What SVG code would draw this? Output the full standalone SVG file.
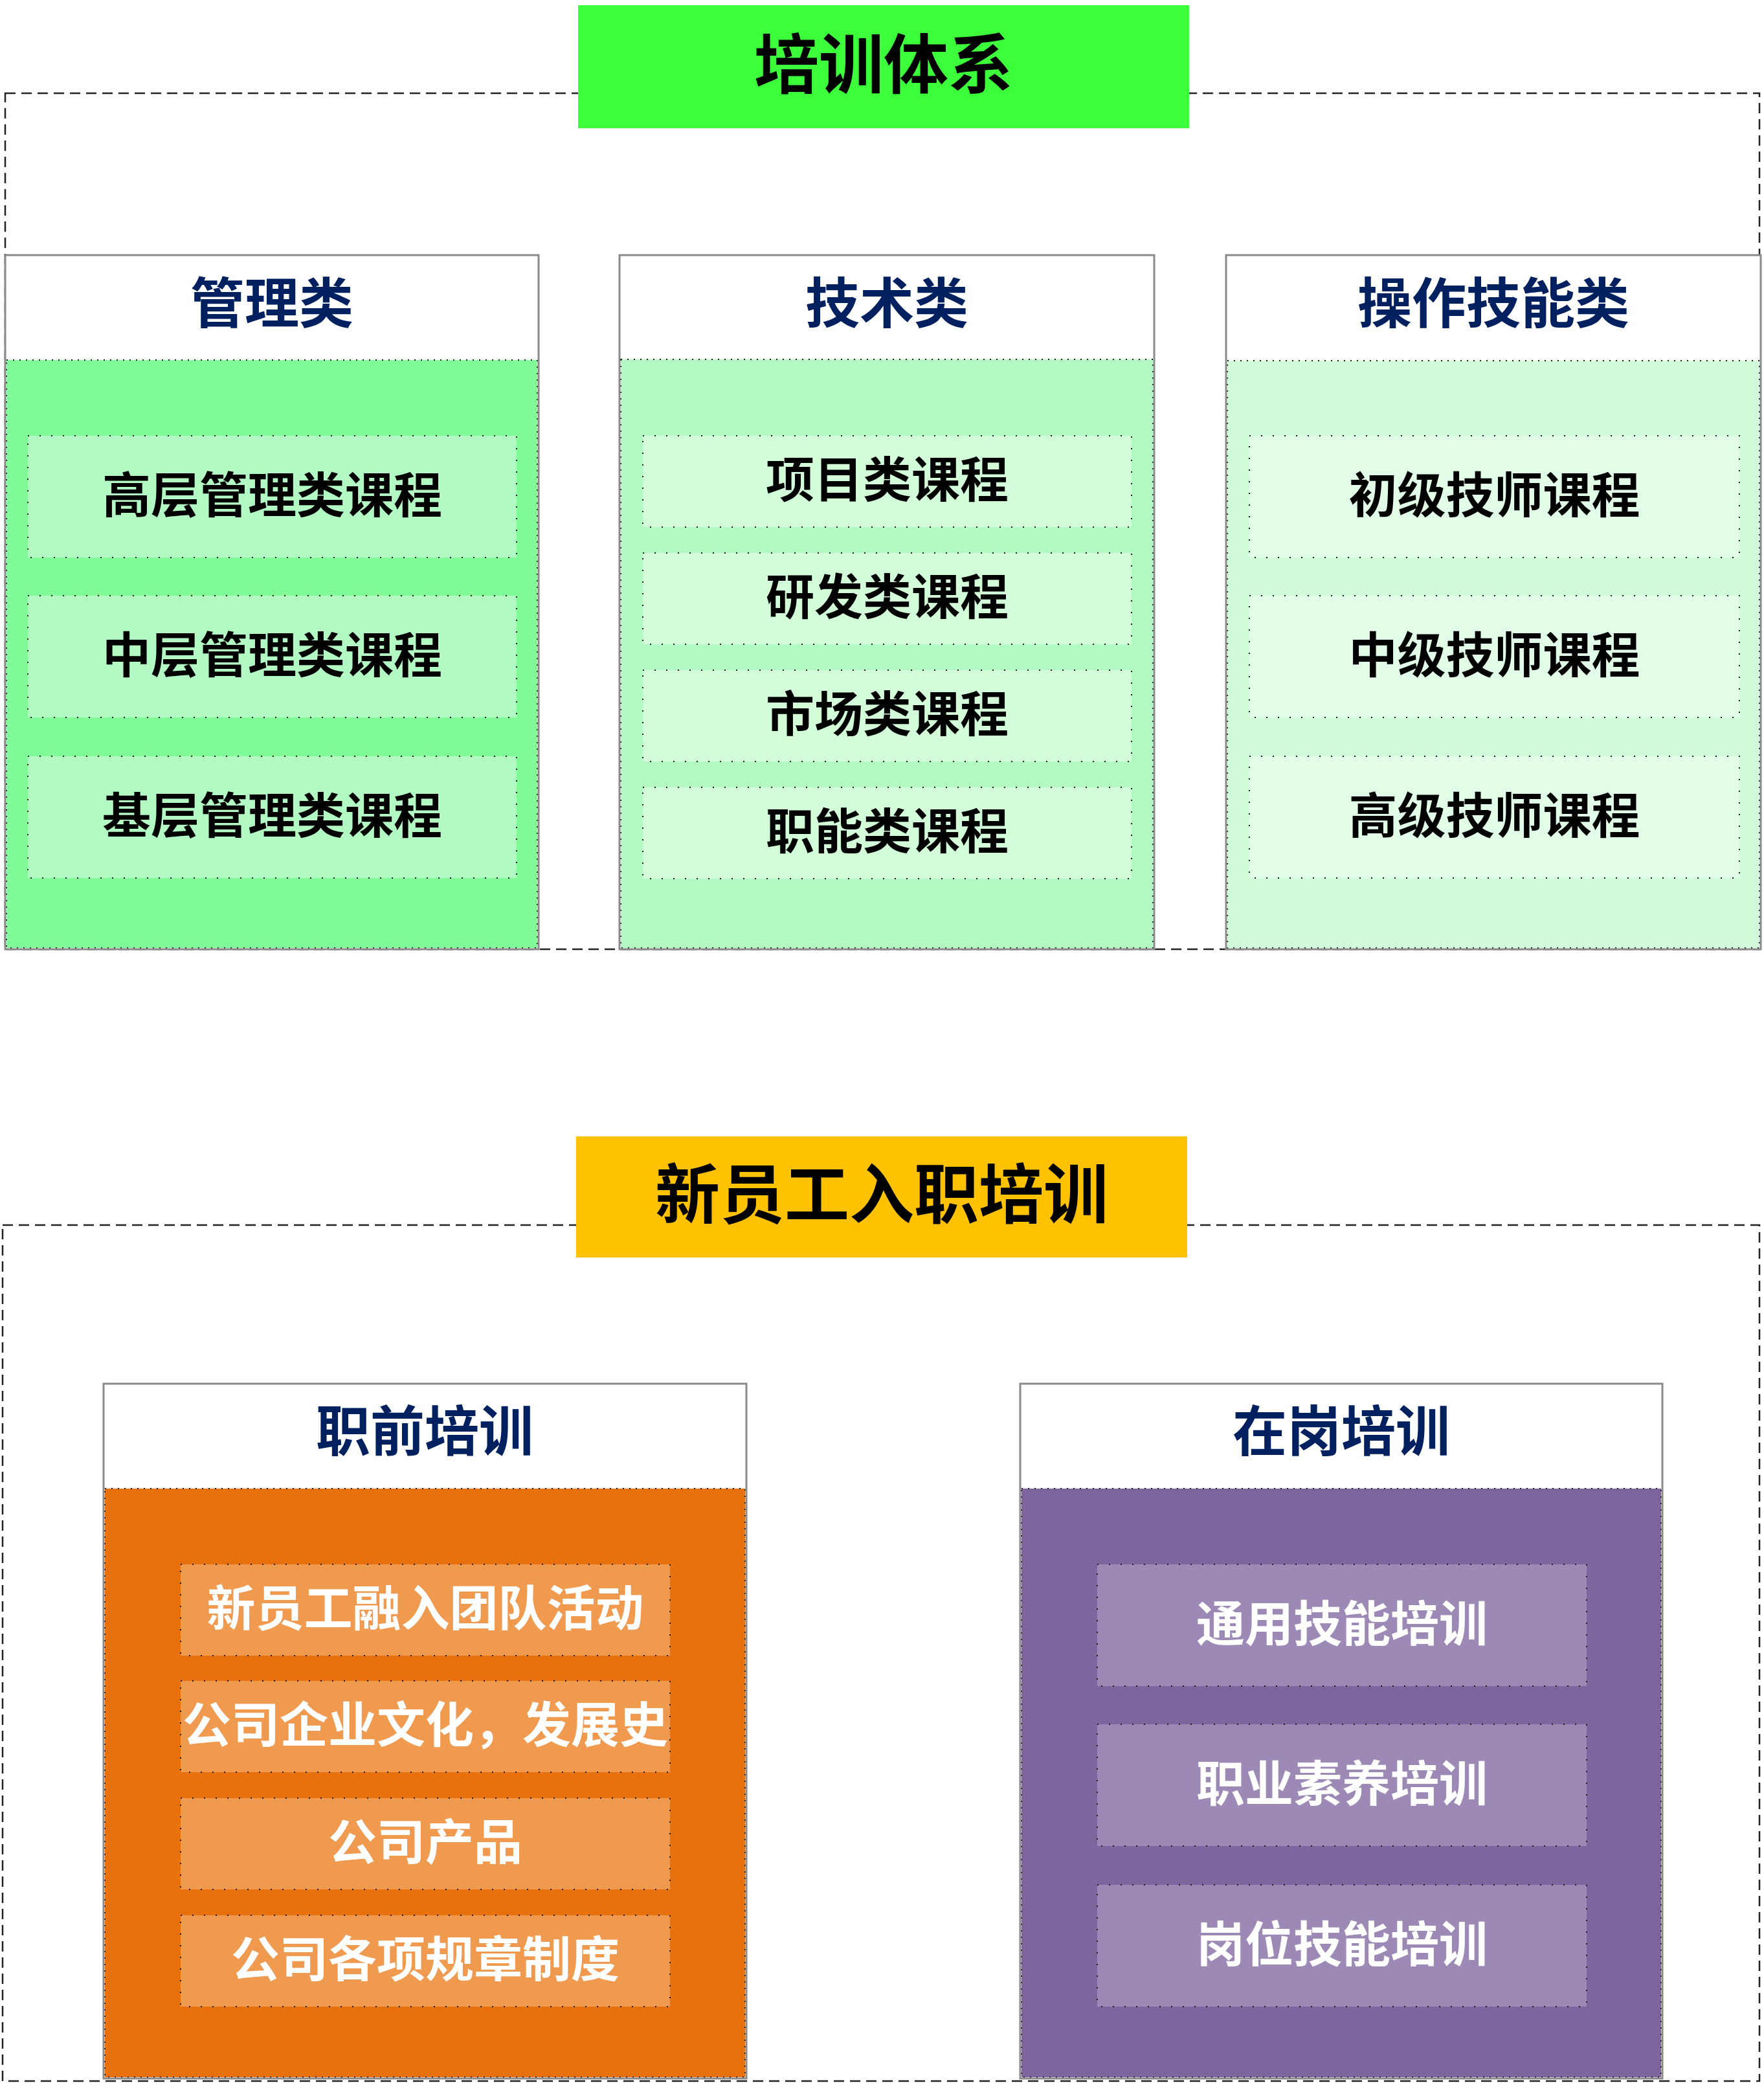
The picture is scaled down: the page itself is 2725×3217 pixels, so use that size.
<svg xmlns="http://www.w3.org/2000/svg" width="2725" height="3217" viewBox="0 0 2725 3217">
<style>
text{font-family:"Noto Sans CJK SC","Microsoft YaHei",sans-serif;font-weight:700;text-anchor:middle;dominant-baseline:central}
.frame{fill:none;stroke:#222;stroke-width:2.5;stroke-dasharray:16 9}
.col{fill:#fff;stroke:none}
.outline{fill:none;stroke:#8a8a8a;stroke-width:3}
.content{stroke:#1a1a1a;stroke-width:2;stroke-dasharray:2 8}
.item{stroke:#1a1a1a;stroke-width:2;stroke-dasharray:2 16}
.title{font-size:100px;fill:#000}
.head{font-size:84px;fill:#002060}
.lbl{font-size:75px;fill:#000}
.wlbl{font-size:75px;fill:#fff}
</style>

<g id="connectors">
<rect class="frame" x="8" y="144" width="2710" height="1322"/>
<rect class="frame" x="4" y="1892" width="2714" height="1322"/>
</g>

<g id="title-training-system">
<rect x="893" y="8" width="944" height="190" fill="#3CFE3A"/>
<text class="title" x="1365" y="92">培训体系</text>
</g>

<g id="col-management">
<rect class="col" x="8" y="394" width="824" height="1072"/>
<rect class="content" x="10" y="556" width="820" height="908" fill="#80FB97"/>
<rect class="outline" x="8" y="394" width="824" height="1072"/>
<text class="head" x="420" y="462">管理类</text>
<g id="item-m1"><rect class="item" x="43" y="673" width="755" height="188" fill="#B3F9C3"/><text class="lbl" x="420.5" y="759">高层管理类课程</text></g>
<g id="item-m2"><rect class="item" x="43" y="920" width="755" height="188" fill="#B3F9C3"/><text class="lbl" x="420.5" y="1006">中层管理类课程</text></g>
<g id="item-m3"><rect class="item" x="43" y="1168" width="755" height="188" fill="#B3F9C3"/><text class="lbl" x="420.5" y="1254">基层管理类课程</text></g>
</g>

<g id="col-technical">
<rect class="col" x="957" y="394" width="826" height="1072"/>
<rect class="content" x="959" y="555" width="822" height="909" fill="#B3F9C3"/>
<rect class="outline" x="957" y="394" width="826" height="1072"/>
<text class="head" x="1370" y="462">技术类</text>
<g id="item-t1"><rect class="item" x="993" y="673" width="755" height="141" fill="#D2FDD8"/><text class="lbl" x="1370.5" y="735.5">项目类课程</text></g>
<g id="item-t2"><rect class="item" x="993" y="854" width="755" height="141" fill="#D2FDD8"/><text class="lbl" x="1370.5" y="916.5">研发类课程</text></g>
<g id="item-t3"><rect class="item" x="993" y="1035" width="755" height="141" fill="#D2FDD8"/><text class="lbl" x="1370.5" y="1097.5">市场类课程</text></g>
<g id="item-t4"><rect class="item" x="993" y="1216" width="755" height="141" fill="#D2FDD8"/><text class="lbl" x="1370.5" y="1278.5">职能类课程</text></g>
</g>

<g id="col-operation">
<rect class="col" x="1894" y="394" width="826" height="1072"/>
<rect class="content" x="1896" y="557" width="822" height="907" fill="#D1FCD9"/>
<rect class="outline" x="1894" y="394" width="826" height="1072"/>
<text class="head" x="2307" y="462">操作技能类</text>
<g id="item-o1"><rect class="item" x="1930" y="673" width="757" height="188" fill="#E2FDE7"/><text class="lbl" x="2308.5" y="759">初级技师课程</text></g>
<g id="item-o2"><rect class="item" x="1930" y="920" width="757" height="188" fill="#E2FDE7"/><text class="lbl" x="2308.5" y="1006">中级技师课程</text></g>
<g id="item-o3"><rect class="item" x="1930" y="1168" width="757" height="188" fill="#E2FDE7"/><text class="lbl" x="2308.5" y="1254">高级技师课程</text></g>
</g>

<g id="title-new-employee">
<rect x="890" y="1755" width="944" height="187" fill="#FFC200"/>
<text class="title" x="1362" y="1837">新员工入职培训</text>
</g>

<g id="col-pre-job">
<rect class="col" x="160" y="2137" width="993" height="1073"/>
<rect class="content" x="162" y="2299" width="989" height="909" fill="#E8710E"/>
<rect class="outline" x="160" y="2137" width="993" height="1073"/>
<text class="head" x="656" y="2204">职前培训</text>
<g id="item-p1"><rect class="item" x="279" y="2416" width="756" height="141" fill="#F09A50"/><text class="wlbl" x="657" y="2478.5">新员工融入团队活动</text></g>
<g id="item-p2"><rect class="item" x="279" y="2596" width="756" height="141" fill="#F09A50"/><text class="wlbl" x="657" y="2658.5">公司企业文化，发展史</text></g>
<g id="item-p3"><rect class="item" x="279" y="2777" width="756" height="141" fill="#F09A50"/><text class="wlbl" x="657" y="2839.5">公司产品</text></g>
<g id="item-p4"><rect class="item" x="279" y="2958" width="756" height="141" fill="#F09A50"/><text class="wlbl" x="657" y="3020.5">公司各项规章制度</text></g>
</g>

<g id="col-on-job">
<rect class="col" x="1576" y="2137" width="992" height="1073"/>
<rect class="content" x="1578" y="2299" width="988" height="909" fill="#7D669E"/>
<rect class="outline" x="1576" y="2137" width="992" height="1073"/>
<text class="head" x="2072" y="2204">在岗培训</text>
<g id="item-j1"><rect class="item" x="1695" y="2416" width="756" height="188" fill="#9C89B5"/><text class="wlbl" x="2073" y="2502">通用技能培训</text></g>
<g id="item-j2"><rect class="item" x="1695" y="2663" width="756" height="188" fill="#9C89B5"/><text class="wlbl" x="2073" y="2749">职业素养培训</text></g>
<g id="item-j3"><rect class="item" x="1695" y="2911" width="756" height="188" fill="#9C89B5"/><text class="wlbl" x="2073" y="2997">岗位技能培训</text></g>
</g>
</svg>
